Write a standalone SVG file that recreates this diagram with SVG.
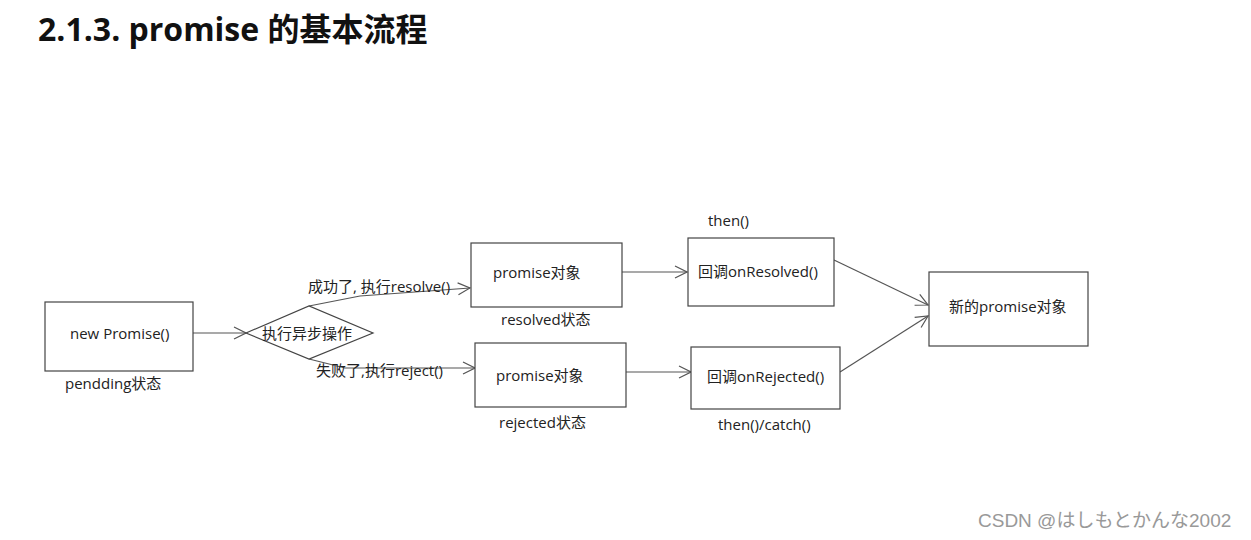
<svg xmlns="http://www.w3.org/2000/svg" width="1251" height="540" viewBox="0 0 1251 540">
<style>
.box{fill:#fff;stroke:#444;stroke-width:1.2}
.ln{fill:none;stroke:#555;stroke-width:1.2}
.t{font-family:"Open Sans","Noto Sans CJK SC",sans-serif;font-size:15px;fill:#222}
.title{font-family:"Open Sans","Noto Sans CJK SC",sans-serif;font-size:32px;font-weight:bold;fill:#111}
.wm{font-family:"Liberation Sans","Noto Sans CJK JP",sans-serif;font-size:19px;fill:#999}
</style>
<defs>
<marker id="arr" viewBox="0 0 14 14" refX="13" refY="7" markerWidth="14" markerHeight="14" markerUnits="userSpaceOnUse" orient="auto">
<path d="M1,1 L13,7 L1,13" fill="none" stroke="#555" stroke-width="1.2"/>
</marker>
</defs>
<rect width="1251" height="540" fill="#fff"/>
<text class="title" x="38" y="41">2.1.3. promise 的基本流程</text>

<g id="connectors">
<line class="ln" x1="193" y1="333" x2="246" y2="333" marker-end="url(#arr)"/>
<path class="ln" d="M309,306 L360,296 L470,288" marker-end="url(#arr)"/>
<path class="ln" d="M309,359 L345,368 L475,368" marker-end="url(#arr)"/>
<line class="ln" x1="622" y1="272" x2="687" y2="272" marker-end="url(#arr)"/>
<line class="ln" x1="626" y1="372" x2="691" y2="372" marker-end="url(#arr)"/>
<line class="ln" x1="834" y1="260" x2="928" y2="305" marker-end="url(#arr)"/>
<line class="ln" x1="840" y1="372" x2="928" y2="316" marker-end="url(#arr)"/>
<text class="t" x="308" y="292">成功了, 执行resolve()</text>
<text class="t" x="316" y="376">失败了,执行reject()</text>
</g>

<g id="new-promise">
<rect class="box" x="45" y="302" width="148" height="69"/>
<text class="t" x="70" y="339">new Promise()</text>
<text class="t" x="65" y="389">pendding状态</text>
</g>

<g id="async-op">
<polygon class="box" points="246,333 309,306 373,333 309,359"/>
<text class="t" x="262" y="339">执行异步操作</text>
</g>

<g id="promise-resolved">
<rect class="box" x="471" y="243" width="151" height="64"/>
<text class="t" x="493" y="278">promise对象</text>
<text class="t" x="501" y="325">resolved状态</text>
</g>

<g id="promise-rejected">
<rect class="box" x="475" y="343" width="151" height="64"/>
<text class="t" x="496" y="381">promise对象</text>
<text class="t" x="499" y="428">rejected状态</text>
</g>

<g id="on-resolved">
<rect class="box" x="688" y="238" width="146" height="68"/>
<text class="t" x="698" y="277">回调onResolved()</text>
<text class="t" x="708" y="226">then()</text>
</g>

<g id="on-rejected">
<rect class="box" x="691" y="347" width="149" height="62"/>
<text class="t" x="707" y="382">回调onRejected()</text>
<text class="t" x="718" y="430">then()/catch()</text>
</g>

<g id="new-promise-obj">
<rect class="box" x="929" y="272" width="159" height="74"/>
<text class="t" x="949" y="312">新的promise对象</text>
</g>

<text class="wm" x="978" y="527">CSDN @はしもとかんな2002</text>
</svg>
